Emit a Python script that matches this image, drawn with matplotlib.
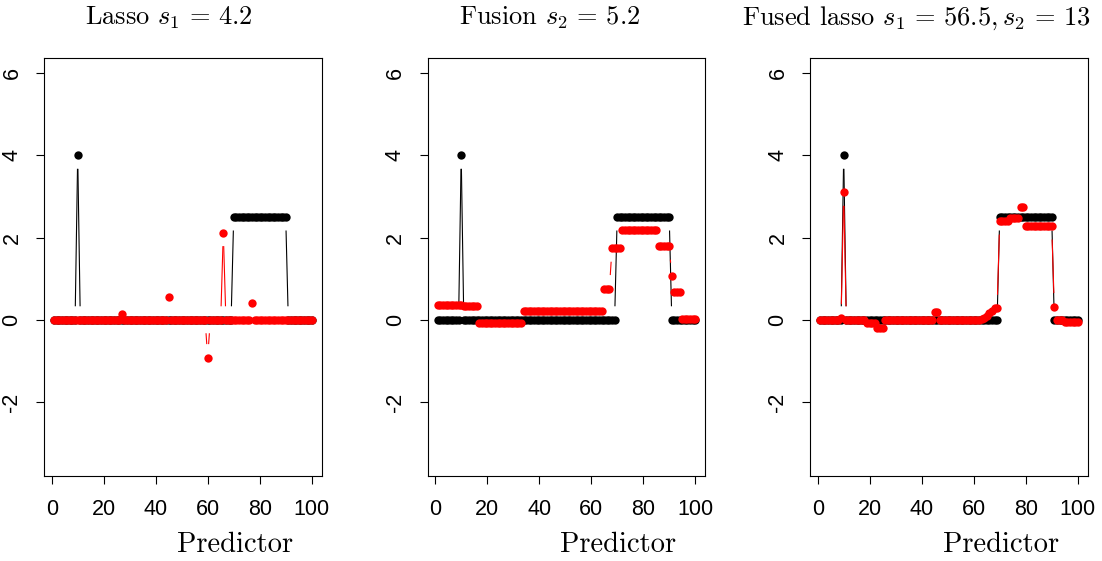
import numpy as np
import matplotlib
matplotlib.use("Agg")
import matplotlib.pyplot as plt

plt.rcParams['mathtext.fontset'] = 'cm'
plt.rcParams['font.family'] = ['Liberation Sans', 'DejaVu Sans']

# predictor index 1..100
predictor = np.arange(1, 101)

# true coefficients (black), as value / run length
true_vals = [0, 4, 0, 2.5, 0]
true_runs = [9, 1, 59, 21, 10]

# lasso estimate s1 = 4.2
lasso_vals = [0, 0.15, 0, 0.55, 0, -0.92, 0, 2.12, 0, 0.42, 0]
lasso_runs = [26, 1, 17, 1, 14, 1, 5, 1, 10, 1, 23]

# fusion estimate s2 = 5.2
fusion_vals = [0.35, 0.33, -0.09, 0.22, 0.76, 1.74, 2.18, 1.79, 1.06, 0.67, 0.03]
fusion_runs = [10, 6, 17, 31, 3, 4, 14, 5, 1, 3, 6]

# fused lasso estimate s1 = 56.5, s2 = 13
fused_vals = [0, 0.05, 3.1, 0, -0.08, -0.21, 0, 0.18, 0,
              0.02, 0.05, 0.1, 0.16, 0.22, 0.28, 0.28,
              2.40, 2.48, 2.75, 2.28, 0.32, 0, -0.05]
fused_runs = [8, 1, 1, 8, 4, 3, 19, 2, 16,
              1, 1, 1, 1, 1, 1, 1,
              4, 4, 2, 11, 1, 3, 6]

titles = [r'Lasso $s_1\,=\,4.2$', r'Fusion $s_2\,=\,5.2$',
          r'Fused lasso $s_1\,=\,56.5,s_2\,=\,13$']
estimates = [(lasso_vals, lasso_runs), (fusion_vals, fusion_runs),
             (fused_vals, fused_runs)]

W, H = 1102, 561
GAP = 13.5  # px gap around points, like R type="b"

fig = plt.figure(figsize=(W / 100, H / 100), dpi=100)


def draw_b(ax, x, y, color):
    # points plus lines broken around each point
    ax.plot(x, y, 'o', color=color, ms=6, mew=0)
    pts = ax.transData.transform(np.column_stack([x, y]))
    inv = ax.transData.inverted()
    for p0, p1 in zip(pts[:-1], pts[1:]):
        d = np.hypot(*(p1 - p0))
        if d <= 2 * GAP:
            continue
        u = (p1 - p0) / d
        a, b = inv.transform([p0 + u * GAP, p1 - u * GAP])
        ax.plot([a[0], b[0]], [a[1], b[1]], color=color, lw=0.8,
                solid_capstyle='butt')


lefts = [44, 427.5, 810]
title_x = [169, 550, 916]
top, bottom, width = 57.5, 476, 278
truth = np.repeat(true_vals, true_runs)

for i in range(3):
    ax = fig.add_axes([lefts[i] / W, 1 - bottom / H, width / W, (bottom - top) / H])
    ax.set_xlim(-2.96, 103.96)
    ax.set_ylim(-3.8, 6.38)
    est = np.repeat(*estimates[i])
    draw_b(ax, predictor, truth, 'black')
    draw_b(ax, predictor, est, 'red')

    ax.set_xticks([0, 20, 40, 60, 80, 100])
    ax.set_yticks([-2, 0, 2, 4, 6])
    ax.set_yticklabels(['-2', '0', '2', '4', '6'])
    ax.tick_params(length=5.5, width=0.8, labelsize=15.5, direction='out')
    ax.tick_params(axis='x', pad=11)
    ax.tick_params(axis='y', pad=10)
    for lbl in ax.get_yticklabels():
        lbl.set_rotation(90)
        lbl.set_va('center')
    for sp in ax.spines.values():
        sp.set_linewidth(0.8)

    fig.text(title_x[i] / W, 1 - 25 / H, titles[i], ha='center', va='baseline',
             fontsize=19, family='cmr10')
    fig.text((lefts[i] + width / 2 + 52) / W, 1 - 552 / H, 'Predictor',
             ha='center', va='baseline', fontsize=20.5, family='cmr10')

fig.savefig('out.png', dpi=100)
